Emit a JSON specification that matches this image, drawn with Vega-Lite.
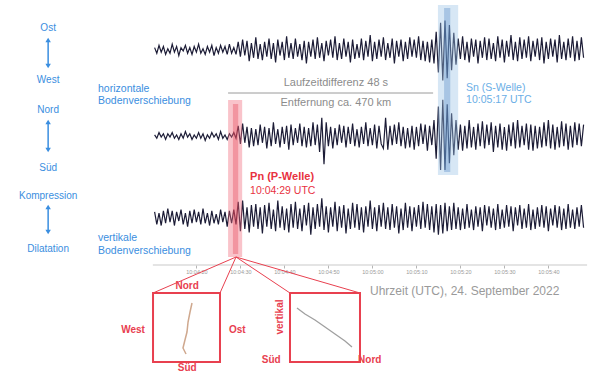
{
"$schema":"https://vega.github.io/schema/vega-lite/v6.json",
"width":600,"height":374,"autosize":"none","padding":0,"background":"white",
"config":{"view":{"stroke":null},"font":"Liberation Sans"},
"datasets":{"seis":[
{"t":-18.5,"e":2,"n":1,"z":5},{"t":-18,"e":-3,"n":-2,"z":-6},{"t":-17.5,"e":4,"n":3,"z":4},{"t":-17,"e":-2,"n":-1,"z":-7},{"t":-16.5,"e":3,"n":2,"z":6},
{"t":-16,"e":-4,"n":-3,"z":-5},{"t":-15.5,"e":1,"n":2,"z":8},{"t":-15,"e":-3,"n":-1,"z":-4},{"t":-14.5,"e":5,"n":3,"z":6},{"t":-14,"e":-2,"n":-2,"z":-7},
{"t":-13.5,"e":3,"n":1,"z":5},{"t":-13,"e":-5,"n":-3,"z":-3},{"t":-12.5,"e":2,"n":2,"z":7},{"t":-12,"e":-1,"n":-2,"z":-6},{"t":-11.5,"e":4,"n":4,"z":4},
{"t":-11,"e":-3,"n":-1,"z":-8},{"t":-10.5,"e":2,"n":2,"z":6},{"t":-10,"e":-4,"n":-3,"z":-5},{"t":-9.5,"e":3,"n":1,"z":7},{"t":-9,"e":-2,"n":-2,"z":-4},
{"t":-8.5,"e":5,"n":3,"z":5},{"t":-8,"e":-3,"n":-2,"z":-6},{"t":-7.5,"e":1,"n":2,"z":8},{"t":-7,"e":-4,"n":-4,"z":-5},{"t":-6.5,"e":3,"n":1,"z":4},
{"t":-6,"e":-2,"n":-2,"z":-7},{"t":-5.5,"e":4,"n":3,"z":6},{"t":-5,"e":-5,"n":-1,"z":-5},{"t":-4.5,"e":2,"n":2,"z":3},{"t":-4,"e":-3,"n":-3,"z":-6},
{"t":-3.5,"e":4,"n":4,"z":7},{"t":-3,"e":-2,"n":-2,"z":-4},{"t":-2.5,"e":3,"n":1,"z":5},{"t":-2,"e":-4,"n":-3,"z":-8},{"t":-1.5,"e":5,"n":2,"z":6},
{"t":-1,"e":-3,"n":-1,"z":-5},{"t":-0.5,"e":2,"n":3,"z":7},{"t":0,"e":-4,"n":-2,"z":-6},
{"t":0.5,"e":7,"n":9,"z":14},{"t":1,"e":-6,"n":-7,"z":-12},{"t":1.5,"e":9,"n":11,"z":15},{"t":2,"e":-5,"n":-6,"z":-10},{"t":2.5,"e":8,"n":8,"z":9},
{"t":3,"e":-10,"n":-10,"z":-13},{"t":3.5,"e":6,"n":7,"z":11},{"t":4,"e":-7,"n":-9,"z":-8},{"t":4.5,"e":11,"n":6,"z":12},{"t":5,"e":-8,"n":-8,"z":-10},
{"t":5.5,"e":5,"n":10,"z":9},{"t":6,"e":-9,"n":-6,"z":-14},{"t":6.5,"e":7,"n":8,"z":11},{"t":7,"e":-6,"n":-11,"z":-8},{"t":7.5,"e":10,"n":7,"z":13},
{"t":8,"e":-8,"n":-9,"z":-10},{"t":8.5,"e":6,"n":12,"z":7},{"t":9,"e":-11,"n":-7,"z":-12},{"t":9.5,"e":9,"n":6,"z":15},{"t":10,"e":-5,"n":-10,"z":-9},
{"t":10.5,"e":7,"n":8,"z":10},{"t":11,"e":-9,"n":-7,"z":-11},{"t":11.5,"e":12,"n":9,"z":8},{"t":12,"e":-7,"n":-12,"z":-13},{"t":12.5,"e":6,"n":10,"z":12},
{"t":13,"e":-8,"n":-8,"z":-9},{"t":13.5,"e":10,"n":7,"z":14},{"t":14,"e":-6,"n":-6,"z":-10},{"t":14.5,"e":5,"n":11,"z":8},{"t":15,"e":-9,"n":-9,"z":-12},
{"t":15.5,"e":8,"n":8,"z":11},{"t":16,"e":-12,"n":-10,"z":-7},{"t":16.5,"e":7,"n":7,"z":13},{"t":17,"e":-6,"n":-9,"z":-15},{"t":17.5,"e":9,"n":12,"z":9},
{"t":18,"e":-8,"n":-8,"z":-10},{"t":18.5,"e":11,"n":10,"z":12},{"t":19,"e":-7,"n":-14,"z":-8},{"t":19.5,"e":6,"n":16,"z":17},{"t":20,"e":-10,"n":-25,"z":-11},
{"t":20.5,"e":8,"n":12,"z":10},{"t":21,"e":-5,"n":-9,"z":-13},{"t":21.5,"e":9,"n":8,"z":9},{"t":22,"e":-7,"n":-11,"z":-8},{"t":22.5,"e":12,"n":7,"z":14},
{"t":23,"e":-9,"n":-8,"z":-12},{"t":23.5,"e":6,"n":10,"z":10},{"t":24,"e":-8,"n":-6,"z":-9},{"t":24.5,"e":10,"n":9,"z":11},{"t":25,"e":-6,"n":-10,"z":-14},
{"t":25.5,"e":7,"n":8,"z":8},{"t":26,"e":-11,"n":-7,"z":-10},{"t":26.5,"e":9,"n":11,"z":13},{"t":27,"e":-8,"n":-9,"z":-9},{"t":27.5,"e":5,"n":6,"z":12},
{"t":28,"e":-7,"n":-10,"z":-11},{"t":28.5,"e":10,"n":8,"z":9},{"t":29,"e":-9,"n":-7,"z":-13},{"t":29.5,"e":8,"n":12,"z":10},{"t":30,"e":-6,"n":-9,"z":-8},
{"t":30.5,"e":13,"n":7,"z":15},{"t":31,"e":-10,"n":-8,"z":-10},{"t":31.5,"e":7,"n":10,"z":9},{"t":32,"e":-8,"n":-11,"z":-12},{"t":32.5,"e":9,"n":9,"z":11},
{"t":33,"e":-6,"n":-7,"z":-8},{"t":33.5,"e":11,"n":-11,"z":13},{"t":34,"e":-9,"n":16,"z":-10},{"t":34.5,"e":6,"n":-12,"z":9},{"t":35,"e":-7,"n":9,"z":-11},
{"t":35.5,"e":10,"n":-8,"z":12},{"t":36,"e":-12,"n":10,"z":-9},{"t":36.5,"e":8,"n":-7,"z":10},{"t":37,"e":-6,"n":12,"z":-14},{"t":37.5,"e":9,"n":-9,"z":8},
{"t":38,"e":-10,"n":8,"z":-11},{"t":38.5,"e":7,"n":-11,"z":13},{"t":39,"e":-8,"n":7,"z":-9},{"t":39.5,"e":11,"n":-10,"z":10},{"t":40,"e":-6,"n":9,"z":-12},
{"t":40.5,"e":9,"n":-12,"z":9},{"t":41,"e":-7,"n":8,"z":-8},{"t":41.5,"e":12,"n":-9,"z":11},{"t":42,"e":-9,"n":11,"z":-10},{"t":42.5,"e":8,"n":-7,"z":14},
{"t":43,"e":-10,"n":10,"z":-9},{"t":43.5,"e":7,"n":-13,"z":12},{"t":44,"e":-11,"n":9,"z":-11},{"t":44.5,"e":9,"n":-8,"z":10},
{"t":45,"e":-12,"n":14,"z":-13},{"t":45.5,"e":16,"n":-20,"z":12},{"t":46,"e":-20,"n":26,"z":-15},{"t":46.5,"e":24,"n":-30,"z":11},{"t":47,"e":-27,"n":32,"z":-14},
{"t":47.5,"e":26,"n":-30,"z":13},{"t":48,"e":-25,"n":28,"z":-12},{"t":48.5,"e":22,"n":-24,"z":10},{"t":49,"e":-18,"n":20,"z":-11},{"t":49.5,"e":15,"n":-17,"z":13},
{"t":50,"e":-13,"n":14,"z":-10},
{"t":50.5,"e":10,"n":-12,"z":9},{"t":51,"e":-8,"n":10,"z":-11},{"t":51.5,"e":12,"n":-13,"z":8},{"t":52,"e":-9,"n":9,"z":-10},{"t":52.5,"e":7,"n":-11,"z":12},
{"t":53,"e":-11,"n":14,"z":-9},{"t":53.5,"e":10,"n":-10,"z":7},{"t":54,"e":-6,"n":8,"z":-11},{"t":54.5,"e":9,"n":-12,"z":10},{"t":55,"e":-12,"n":11,"z":-8},
{"t":55.5,"e":8,"n":-9,"z":9},{"t":56,"e":-7,"n":13,"z":-12},{"t":56.5,"e":11,"n":-11,"z":11},{"t":57,"e":-9,"n":10,"z":-7},{"t":57.5,"e":10,"n":-8,"z":10},
{"t":58,"e":-8,"n":12,"z":-9},{"t":58.5,"e":6,"n":-14,"z":8},{"t":59,"e":-10,"n":9,"z":-11},{"t":59.5,"e":12,"n":-10,"z":12},{"t":60,"e":-7,"n":11,"z":-10},
{"t":60.5,"e":9,"n":-12,"z":7},{"t":61,"e":-11,"n":8,"z":-9},{"t":61.5,"e":8,"n":-13,"z":11},{"t":62,"e":-6,"n":10,"z":-8},{"t":62.5,"e":13,"n":-9,"z":10},
{"t":63,"e":-9,"n":12,"z":-12},{"t":63.5,"e":7,"n":-11,"z":9},{"t":64,"e":-10,"n":14,"z":-7},{"t":64.5,"e":11,"n":-10,"z":11},{"t":65,"e":-8,"n":9,"z":-10},
{"t":65.5,"e":9,"n":-8,"z":8},{"t":66,"e":-7,"n":11,"z":-9},{"t":66.5,"e":12,"n":-12,"z":12},{"t":67,"e":-10,"n":10,"z":-11},{"t":67.5,"e":8,"n":-13,"z":7},
{"t":68,"e":-6,"n":9,"z":-10},{"t":68.5,"e":10,"n":-11,"z":9},{"t":69,"e":-9,"n":8,"z":-8},{"t":69.5,"e":11,"n":-10,"z":11},{"t":70,"e":-12,"n":12,"z":-9},
{"t":70.5,"e":7,"n":-9,"z":10},{"t":71,"e":-8,"n":14,"z":-12},{"t":71.5,"e":10,"n":-11,"z":8},{"t":72,"e":-6,"n":10,"z":-7},{"t":72.5,"e":9,"n":-12,"z":11},
{"t":73,"e":-11,"n":8,"z":-9},{"t":73.5,"e":13,"n":-10,"z":10},{"t":74,"e":-8,"n":13,"z":-11},{"t":74.5,"e":7,"n":-9,"z":8},{"t":75,"e":-9,"n":11,"z":-10},
{"t":75.5,"e":10,"n":-12,"z":12},{"t":76,"e":-7,"n":9,"z":-9},{"t":76.5,"e":12,"n":-10,"z":7},{"t":77,"e":-10,"n":12,"z":-10},{"t":77.5,"e":8,"n":-8,"z":9},
{"t":78,"e":-9,"n":11,"z":-8},{"t":78.5,"e":11,"n":-9,"z":11},{"t":79,"e":-7,"n":10,"z":-9}
]},
"encoding":{
 "x":{"field":"t","type":"quantitative","scale":{"domain":[-53.64,82.73],"nice":false,"zero":false},
  "axis":{"orient":"bottom","offset":-109,"domain":false,"grid":false,"title":null,"values":[-9,1,11,21,31,41,51,61,71],
   "labelExpr":"'10:' + format(floor((269 + datum.value) / 60), '02d') + ':' + format((269 + datum.value) % 60, '02d')",
   "labelFontSize":5.5,"labelColor":"#9a9a9a","tickColor":"#b5b5b5","tickSize":3,"labelPadding":1}},
 "y":{"field":"u","type":"quantitative","scale":{"domain":[0,374],"nice":false,"zero":false},"axis":null}
},
"layer":[
 {"data":{"values":[{"t":-18.9,"t2":79.8,"u":109}]},"mark":{"type":"rule","color":"#c9c9c9","strokeWidth":1},"encoding":{"x2":{"field":"t2"}}},
 {"data":{"name":"seis"},"mark":{"type":"line","color":"#1c1c36","strokeWidth":1.2},"encoding":{"y":{"field":"e","type":"quantitative","scale":{"domain":[-286,44],"nice":false,"zero":false},"axis":null}}},
 {"data":{"name":"seis"},"mark":{"type":"line","color":"#1c1c36","strokeWidth":1.2},"encoding":{"y":{"field":"n","type":"quantitative","scale":{"domain":[-210,120],"nice":false,"zero":false},"axis":null}}},
 {"data":{"name":"seis"},"mark":{"type":"line","color":"#1c1c36","strokeWidth":1.2},"encoding":{"y":{"field":"z","type":"quantitative","scale":{"domain":[-138,192],"nice":false,"zero":false},"axis":null}}},
 {"data":{"values":[{"t":-1.8,"t2":1.4,"u":274,"u2":117}]},"mark":{"type":"rect","color":"#f06a7a","opacity":0.4},"encoding":{"x2":{"field":"t2"},"y2":{"field":"u2"}}},
 {"data":{"values":[{"t":-0.7,"t2":0.5,"u":270,"u2":120}]},"mark":{"type":"rect","color":"#e02a3e","opacity":0.3},"encoding":{"x2":{"field":"t2"},"y2":{"field":"u2"}}},
 {"data":{"values":[{"t":45.9,"t2":50.5,"u":369,"u2":199}]},"mark":{"type":"rect","color":"#9cc2e6","opacity":0.4},"encoding":{"x2":{"field":"t2"},"y2":{"field":"u2"}}},
 {"data":{"values":[{"t":47.3,"t2":48.7,"u":366,"u2":202}]},"mark":{"type":"rect","color":"#3a78bc","opacity":0.3},"encoding":{"x2":{"field":"t2"},"y2":{"field":"u2"}}},
 {"data":{"values":[{"t":-42.7,"u":334,"u2":308},{"t":-42.7,"u":252,"u2":224},{"t":-42.7,"u":167,"u2":142}]},"mark":{"type":"rule","color":"#3a8ee0","strokeWidth":1.5},"encoding":{"y2":{"field":"u2"}}},
 {"data":{"values":[{"t":-42.7,"u":334},{"t":-42.7,"u":252},{"t":-42.7,"u":167}]},"mark":{"type":"point","shape":"triangle-up","filled":true,"size":30,"color":"#3a8ee0","opacity":1}},
 {"data":{"values":[{"t":-42.7,"u":308},{"t":-42.7,"u":224},{"t":-42.7,"u":142}]},"mark":{"type":"point","shape":"triangle-down","filled":true,"size":30,"color":"#3a8ee0","opacity":1}},
 {"data":{"values":[{"t":-42.7,"u":346,"label":"Ost"},{"t":-42.7,"u":294,"label":"West"},{"t":-42.7,"u":264,"label":"Nord"},{"t":-42.7,"u":206,"label":"Süd"},{"t":-42.7,"u":178,"label":"Kompression"},{"t":-42.7,"u":125,"label":"Dilatation"}]},
  "mark":{"type":"text","align":"center","baseline":"middle","fontSize":10,"color":"#3a8ee0"},"encoding":{"text":{"field":"label"}}},
 {"data":{"values":[{"t":-31.36,"u":285,"label":"horizontale"},{"t":-31.36,"u":273,"label":"Bodenverschiebung"},{"t":-31.36,"u":136,"label":"vertikale"},{"t":-31.36,"u":123,"label":"Bodenverschiebung"}]},
  "mark":{"type":"text","align":"left","baseline":"middle","fontSize":10.5,"color":"#3a8ee0"},"encoding":{"text":{"field":"label"}}},
 {"data":{"values":[{"t":-1.8,"t2":44.8,"u":281}]},"mark":{"type":"rule","color":"#9a9a9a","strokeWidth":1},"encoding":{"x2":{"field":"t2"}}},
 {"data":{"values":[{"t":22.7,"u":291,"label":"Laufzeitdifferenz 48 s"},{"t":22.7,"u":271,"label":"Entfernung ca. 470 km"}]},
  "mark":{"type":"text","align":"center","baseline":"middle","fontSize":11,"color":"#8c8c8c"},"encoding":{"text":{"field":"label"}}},
 {"data":{"values":[{"t":52.3,"u":286,"label":"Sn (S-Welle)"},{"t":52.3,"u":274,"label":"10:05:17 UTC"}]},
  "mark":{"type":"text","align":"left","baseline":"middle","fontSize":10.5,"color":"#6aaee6"},"encoding":{"text":{"field":"label"}}},
 {"data":{"values":[{"t":3.2,"u":197,"label":"Pn (P-Welle)"}]},
  "mark":{"type":"text","align":"left","baseline":"middle","fontSize":11,"fontWeight":"bold","color":"#e8323f"},"encoding":{"text":{"field":"label"}}},
 {"data":{"values":[{"t":3.2,"u":183,"label":"10:04:29 UTC"}]},
  "mark":{"type":"text","align":"left","baseline":"middle","fontSize":10.5,"color":"#e8323f"},"encoding":{"text":{"field":"label"}}},
 {"data":{"values":[{"t":30.45,"u":83,"label":"Uhrzeit (UTC), 24. September 2022"}]},
  "mark":{"type":"text","align":"left","baseline":"middle","fontSize":12,"color":"#9a9a9a"},"encoding":{"text":{"field":"label"}}},
 {"data":{"values":[{"t":0,"u":117,"t2":-18.86,"u2":81},{"t":0,"u":117,"t2":-3.64,"u2":81},{"t":0,"u":117,"t2":12.27,"u2":81},{"t":0,"u":117,"t2":28.18,"u2":81}]},
  "mark":{"type":"rule","color":"#e8404f","strokeWidth":1},"encoding":{"x2":{"field":"t2"},"y2":{"field":"u2"}}},
 {"data":{"values":[{"t":-18.86,"t2":-3.64,"u":81,"u2":12},{"t":12.27,"t2":28.18,"u":81,"u2":12}]},
  "mark":{"type":"rect","fill":"white","stroke":"#e8404f","strokeWidth":2},"encoding":{"x2":{"field":"t2"},"y2":{"field":"u2"}}},
 {"data":{"values":[{"k":0,"t":-10.0,"u":71},{"k":1,"t":-10.45,"u":62},{"k":2,"t":-10.9,"u":52},{"k":3,"t":-11.14,"u":42},{"k":4,"t":-11.6,"u":34},{"k":5,"t":-12.05,"u":26},{"k":6,"t":-11.36,"u":20}]},
  "mark":{"type":"line","color":"#cfa88e","strokeWidth":1.5},"encoding":{"order":{"field":"k","type":"quantitative"}}},
 {"data":{"values":[{"k":0,"t":13.86,"u":66},{"k":1,"t":15.68,"u":60},{"k":2,"t":17.95,"u":54},{"k":3,"t":20.23,"u":47},{"k":4,"t":22.5,"u":40},{"k":5,"t":24.77,"u":33},{"k":6,"t":26.36,"u":27}]},
  "mark":{"type":"line","color":"#a0a0a0","strokeWidth":1.3},"encoding":{"order":{"field":"k","type":"quantitative"}}},
 {"data":{"values":[{"t":-11.1,"u":88,"label":"Nord"},{"t":-11.1,"u":6,"label":"Süd"},{"t":-23.4,"u":44,"label":"West"},{"t":0.3,"u":44,"label":"Ost"},{"t":8,"u":14,"label":"Süd"},{"t":30.4,"u":14,"label":"Nord"}]},
  "mark":{"type":"text","align":"center","baseline":"middle","fontSize":10,"fontWeight":"bold","color":"#e8404f"},"encoding":{"text":{"field":"label"}}},
 {"data":{"values":[{"t":10,"u":57,"label":"vertikal"}]},
  "mark":{"type":"text","align":"center","baseline":"middle","fontSize":10,"fontWeight":"bold","angle":270,"color":"#e8404f"},"encoding":{"text":{"field":"label"}}}
],
"resolve":{"scale":{"y":"independent"}}
}
